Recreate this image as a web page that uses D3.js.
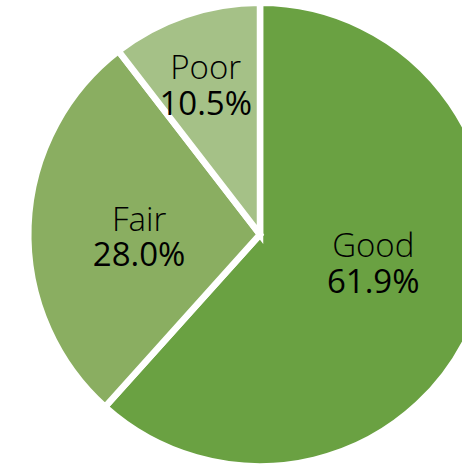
<!DOCTYPE html>
<html>
<head>
<meta charset="utf-8">
<script src="https://cdn.jsdelivr.net/npm/d3@7"></script>
<style>
  html, body { margin: 0; padding: 0; background: #fff; }
  svg { display: block; }
  text { font-family: "Open Sans", "Noto Sans", sans-serif; fill: #000; }
</style>
</head>
<body>
<svg id="chart" width="462" height="465"></svg>
<script>
// Rating categories and their shares (percent), clockwise from 12 o'clock
const categories = ["Good", "Fair", "Poor"];
const shares = [61.9, 28.0, 10.5];
const sliceColors = ["#6aa142", "#8aae61", "#a5c187"];

const width = 462, height = 465;
const cx = 260, cy = 234.5;
const gap = 6.5;                 // white separator width
const radius = 228.5 + gap / 2;  // outer radius of the filled area incl. half stroke

const svg = d3.select("#chart");
const g = svg.append("g").attr("transform", `translate(${cx},${cy})`);

const pie = d3.pie().sort(null).value(d => d.value);
const data = categories.map((c, i) => ({ name: c, value: shares[i] }));
const arcs = pie(data);

const arc = d3.arc().innerRadius(0).outerRadius(radius);
const color = d3.scaleOrdinal().domain(categories).range(sliceColors);

g.selectAll("path.slice")
  .data(arcs)
  .join("path")
  .attr("class", "slice")
  .attr("d", arc)
  .attr("fill", d => color(d.data.name))
  .attr("stroke", "#fff")
  .attr("stroke-width", gap)
  .attr("stroke-linejoin", "miter");

// Label placement: radius along each slice's bisector, plus a small nudge
const labelLayout = {
  Good: { r: 117, dx: 4, dy: -13 },
  Fair: { r: 121, dx: 0, dy: 7 },
  Poor: { r: 159, dx: -3, dy: 1 }
};
const fontSize = 33;
const capH = fontSize * 0.714;
const lineGap = 35.5;
const blockH = capH + lineGap;

// Two-line label: category name over its percentage
const labels = g.selectAll("text.label")
  .data(arcs)
  .join("text")
  .attr("class", "label")
  .attr("text-anchor", "middle")
  .attr("font-size", fontSize)
  .attr("transform", d => {
    const L = labelLayout[d.data.name];
    const a = (d.startAngle + d.endAngle) / 2;
    const x = L.r * Math.sin(a) + L.dx;
    const y = -L.r * Math.cos(a) + L.dy;
    return `translate(${x},${y})`;
  });

labels.append("tspan")
  .attr("x", 0)
  .attr("y", -blockH / 2 + capH)
  .attr("font-weight", 300)
  .text(d => d.data.name);

labels.append("tspan")
  .attr("x", 0)
  .attr("y", blockH / 2)
  .attr("font-weight", 400)
  .text(d => d3.format(".1f")(d.data.value) + "%");
</script>
</body>
</html>
